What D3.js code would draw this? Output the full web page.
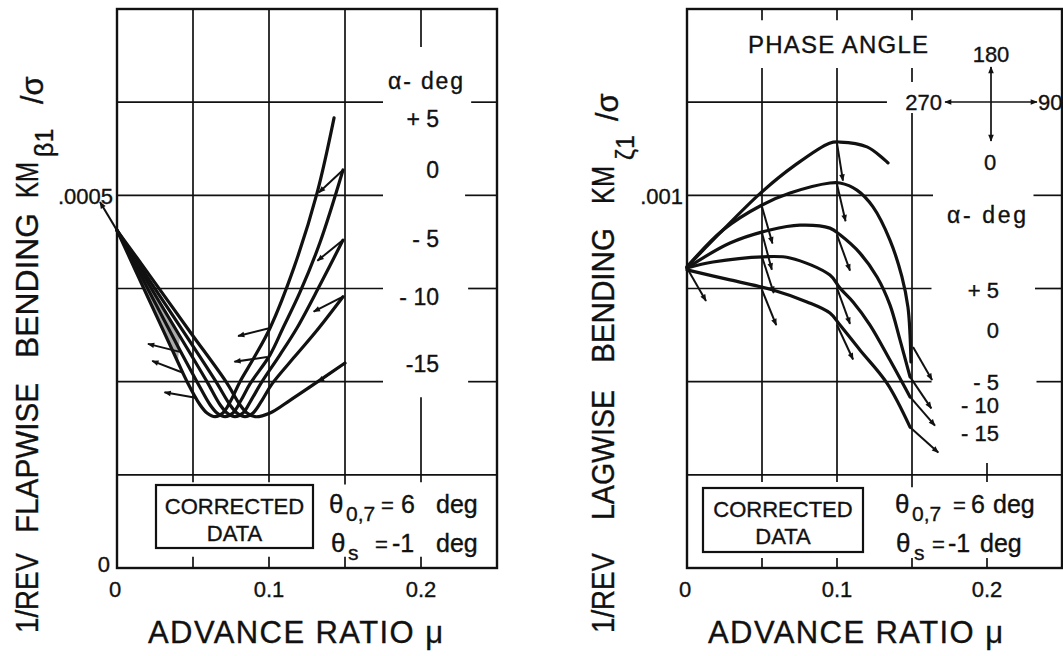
<!DOCTYPE html>
<html><head><meta charset="utf-8">
<script src="https://cdn.jsdelivr.net/npm/d3@7"></script>
<style>
body{margin:0;background:#fff}
text{font-family:"Liberation Sans",Arial,sans-serif;fill:#111;stroke:#111;stroke-width:0.35px}
</style>
</head><body>
<svg id="c" width="1063" height="656"></svg>
<script>
// ---------------- DATA ----------------
const xTickValues = [0, 0.1, 0.2];
const flapYTickValues = [0, 0.0005];
const flapYTickLabels = ["0", ".0005"];
const lagYTickValues = [0.001];
const lagYTickLabels = [".001"];
const flapAlphaLabels = ["+ 5", "0", "- 5", "- 10", "-15"];
const lagAlphaLabels = ["+ 5", "0", "- 5", "- 10", "- 15"];
const phaseLabels = ["180", "90", "0", "270"];

// Flapwise bending (left chart), one array per angle of attack
const flapMuP5  = [0, .0197, .0401, .0461, .0546, .0592, .0645, .0697, .0750, .0809, .0901, .1007, .1164, .1316, .1428];
const flapValP5 = [.000453, .000366, .000276, .000250, .000219, .000208, .000203, .000208, .000225, .000250, .000282, .000322, .000403, .000503, .000604];
const flapMu0   = [0, .0217, .0414, .0526, .0612, .0658, .0711, .0763, .0816, .0875, .1007, .1092, .1204, .1336, .1487];
const flapVal0  = [.000453, .000369, .000292, .000250, .000219, .000208, .000203, .000208, .000225, .000247, .000286, .000322, .000370, .000437, .000534];
const flapMuM5  = [0, .0217, .0414, .0592, .0678, .0724, .0776, .0829, .0882, .0954, .1072, .1184, .1336, .1487];
const flapValM5 = [.000453, .000378, .000311, .000250, .000219, .000208, .000203, .000208, .000225, .000250, .000286, .000322, .000380, .000440];
const flapMuM10  = [0, .0217, .0447, .0651, .0743, .0789, .0842, .0895, .0954, .1020, .1171, .1316, .1487];
const flapValM10 = [.000453, .000385, .000314, .000250, .000219, .000208, .000203, .000208, .000225, .000247, .000284, .000319, .000364];
const flapMuM15  = [0, .0217, .0480, .0717, .0809, .0855, .0908, .1007, .1138, .1270, .1500];
const flapValM15 = [.000453, .000392, .000317, .000250, .000219, .000208, .000203, .000208, .000225, .000243, .000275];
// phase arrows: [mu, value, phase deg]
const flapArrows = [
  [0, .000453, 211], [.0526, .000228, 260], [.0434, .000262, 249], [.0414, .000290, 256],
  [.1007, .000322, 284], [.0987, .000283, 278], [.1500, .000275, 305], [.1487, .000364, 297],
  [.1487, .000440, 309], [.1487, .000534, 313]
];

// Lagwise bending (right chart)
const lagMuP5  = [0, .022, .049, .072, .095, .102, .120, .134];
const lagValP5 = [.000808, .000899, .001006, .001081, .001140, .001143, .001130, .001087];
const lagMu0   = [0, .024, .050, .0687, .0953, .102, .1133, .124, .1353, .1433, .1473, .1487, .1493];
const lagVal0  = [.000808, .000907, .000974, .001006, .001033, .001033, .001014, .000969, .000880, .000781, .000700, .000625, .000553];
const lagMuM5  = [0, .0287, .0553, .0753, .0953, .102, .1153, .1267, .1353, .142, .1487];
const lagValM5 = [.000805, .000872, .000907, .000920, .000912, .000894, .000845, .000781, .000706, .000612, .000513];
const lagMuM10  = [0, .0173, .0507, .0687, .0953, .102, .1107, .122, .1353, .1487];
const lagValM10 = [.000805, .000821, .000835, .000832, .000786, .000751, .000714, .000652, .000558, .000459];
const lagMuM15  = [0, .0287, .0573, .080, .0953, .102, .1153, .1333, .1487];
const lagValM15 = [.000800, .000773, .000746, .000714, .000684, .000652, .000585, .000496, .000378];
const lagArrows = [
  [0, .000805, 30],
  [.050, .000969, 16], [.050, .000899, 15], [.050, .000835, 18], [.050, .000746, 22],
  [.100, .001140, 9], [.100, .001030, 13], [.100, .000894, 20], [.100, .000751, 20], [.100, .000652, 25],
  [.1507, .000593, 30], [.1487, .000513, 34], [.1487, .000459, 41], [.1487, .000378, 48]
];

// ---------------- DRAWING ----------------
const svg = d3.select("#c");
const defs = svg.append("defs");
defs.append("marker").attr("id", "ah").attr("viewBox", "0 0 10 10")
  .attr("refX", 9).attr("refY", 5).attr("markerWidth", 10).attr("markerHeight", 7)
  .attr("markerUnits", "userSpaceOnUse").attr("orient", "auto")
  .append("path").attr("d", "M0,1 L10,5 L0,9 Z").attr("fill", "#111");
defs.append("marker").attr("id", "ah2").attr("viewBox", "0 0 10 10")
  .attr("refX", 9).attr("refY", 5).attr("markerWidth", 8).attr("markerHeight", 7)
  .attr("markerUnits", "userSpaceOnUse").attr("orient", "auto-start-reverse")
  .append("path").attr("d", "M0,1 L10,5 L0,9 Z").attr("fill", "#111");

const zip = (a, b) => a.map((m, i) => [m, b[i]]);
const INK = "#111";

function panel(cfg) {
  const g = svg.append("g");
  const x = d3.scaleLinear().domain([0, 0.25]).range([cfg.x0, cfg.x1]);
  const y = d3.scaleLinear().domain([0, cfg.yMax]).range([cfg.yBot, cfg.yTop]);

  // horizontal grid segments [value, muFrom, muTo]
  cfg.hGrid.forEach(s => {
    g.append("line").attr("x1", x(s[1])).attr("x2", x(s[2]))
      .attr("y1", y(s[0])).attr("y2", y(s[0]))
      .attr("stroke", INK).attr("stroke-width", 1.7);
  });
  // vertical grid segments [mu, vFrom, vTo]
  cfg.vGrid.forEach(s => {
    g.append("line").attr("x1", x(s[0])).attr("x2", x(s[0]))
      .attr("y1", y(s[1])).attr("y2", y(s[2]))
      .attr("stroke", INK).attr("stroke-width", 1.7);
  });
  // frame
  g.append("rect").attr("x", cfg.x0).attr("y", cfg.yTop)
    .attr("width", cfg.x1 - cfg.x0).attr("height", cfg.yBot - cfg.yTop)
    .attr("fill", "none").attr("stroke", INK).attr("stroke-width", 2.4);

  // x tick labels
  g.selectAll(".xt").data(xTickValues).enter().append("text")
    .attr("x", d => x(d) - (d === 0 ? 2 : 0)).attr("y", 597)
    .attr("text-anchor", "middle").attr("font-size", 22)
    .text(d => d === 0 ? "0" : d3.format(".1f")(d));
  // y tick labels
  cfg.yTicks.forEach((v, i) => {
    g.append("text").attr("x", cfg.x0 - (v === 0 ? 7 : 4))
      .attr("y", y(v) + (v === 0 ? 4 : 9))
      .attr("text-anchor", "end").attr("font-size", 22)
      .text(cfg.yTickLabels[i]);
  });

  // x axis title
  g.append("text").attr("x", cfg.titleX).attr("y", 643).attr("font-size", 31)
    .attr("textLength", 295).attr("lengthAdjust", "spacing")
    .text("ADVANCE  RATIO  \u03bc");

  // y axis title (rotated), one text per word
  const yg = g.append("g").attr("transform", `translate(${cfg.yLabX},633) rotate(-90)`);
  cfg.yWords.forEach(w => {
    yg.append("text").attr("x", 633 - w[1]).attr("y", 0).attr("font-size", 31)
      .attr("textLength", w[2]).attr("lengthAdjust", "spacingAndGlyphs").text(w[0]);
  });
  yg.append("text").attr("x", 633 - cfg.subStart).attr("y", cfg.subDy)
    .attr("font-size", 25).text(cfg.sub);
  yg.append("text").attr("x", 633 - cfg.sigStart).attr("y", cfg.sigDy)
    .attr("font-size", 31).text("/\u03c3");

  // alpha labels
  g.append("text").attr("x", cfg.alphaX).attr("y", cfg.alphaTitleY)
    .attr("font-size", 23).attr("textLength", cfg.alphaTitleLen).attr("lengthAdjust", "spacing")
    .text("\u03b1- deg");
  cfg.alphaLabels.forEach((t, i) => {
    g.append("text").attr("x", cfg.alphaRight).attr("y", cfg.alphaY[i])
      .attr("text-anchor", "end").attr("font-size", cfg.alphaFont).text(t);
  });

  // legend box
  g.append("rect").attr("x", cfg.box[0]).attr("y", cfg.box[1])
    .attr("width", cfg.box[2]).attr("height", cfg.box[3])
    .attr("fill", "#fff").attr("stroke", INK).attr("stroke-width", 2.2);
  const bc = cfg.box[0] + cfg.box[2] / 2;
  g.append("text").attr("x", bc).attr("y", cfg.box[1] + 29).attr("text-anchor", "middle")
    .attr("font-size", 22).text("CORRECTED");
  g.append("text").attr("x", bc).attr("y", cfg.box[1] + 56).attr("text-anchor", "middle")
    .attr("font-size", 22).text("DATA");

  // theta lines
  cfg.theta.forEach(t => {
    const tx = g.append("text").attr("y", t.y).attr("font-size", 26);
    tx.append("tspan").attr("x", t.x[0]).text("\u03b8");
    tx.append("tspan").attr("x", t.x[1]).attr("dy", 8).attr("font-size", 21).text(t.sub);
    tx.append("tspan").attr("x", t.x[2]).attr("dy", -8).attr("font-size", 22).text("=");
    tx.append("tspan").attr("x", t.x[3]).attr("font-size", 25).text(t.val);
    tx.append("tspan").attr("x", t.x[4]).attr("font-size", 25).text("deg");
  });

  // shading between the first descending curves
  if (cfg.shade) {
    const a = cfg.series[0].filter(d => d[0] <= 0.045);
    const b = cfg.series[2].filter(d => d[0] <= 0.045).slice().reverse();
    g.append("path").attr("d", d3.line().x(d => x(d[0])).y(d => y(d[1]))(a.concat(b)) + "Z")
      .attr("fill", "#aaa").attr("stroke", "none");
  }

  // curves
  const line = d3.line().x(d => x(d[0])).y(d => y(d[1])).curve(d3.curveCatmullRom.alpha(0.5));
  cfg.series.forEach(s => {
    g.append("path").attr("d", line(s)).attr("fill", "none")
      .attr("stroke", INK).attr("stroke-width", 3.2).attr("stroke-linejoin", "round")
      .attr("stroke-linecap", "round");
  });

  // phase arrows
  cfg.arrows.forEach(a => {
    const px = x(a[0]), py = y(a[1]), r = a[2] * Math.PI / 180;
    g.append("line").attr("x1", px).attr("y1", py)
      .attr("x2", px + cfg.arrowLen * Math.sin(r)).attr("y2", py + cfg.arrowLen * Math.cos(r))
      .attr("stroke", INK).attr("stroke-width", 2).attr("marker-end", "url(#ah)");
  });
  return {g, x, y};
}

// Left chart
const L = panel({
  x0: 117, x1: 497, yTop: 9, yBot: 568, yMax: 0.00075,
  hGrid: [[0.000125, 0, 0.25],
          [0.00025, 0, 0.175], [0.00025, 0.231, 0.25],
          [0.000375, 0, 0.175], [0.000375, 0.231, 0.25],
          [0.0005, 0, 0.175], [0.0005, 0.229, 0.25],
          [0.000625, 0, 0.175], [0.000625, 0.233, 0.25]],
  vGrid: [[0.05, 0.000115, 0.00075], [0.1, 0.000115, 0.00075], [0.15, 0.000112, 0.00075],
          [0.2, 0.000699, 0.00075], [0.2, 0.000115, 0.000229],
          [0.05, 0, 0.000015], [0.1, 0, 0.000015], [0.15, 0, 0.000015], [0.2, 0, 0.000015]],
  yTicks: flapYTickValues, yTickLabels: flapYTickLabels,
  titleX: 148,
  yLabX: 38,
  yWords: [["1/REV", 633, 80], ["FLAPWISE", 533, 150], ["BENDING", 358, 145], ["KM", 198, 36]],
  sub: "\u03b21", subStart: 157, subDy: 15, sigStart: 104, sigDy: 5,
  alphaX: 388, alphaTitleY: 89, alphaTitleLen: 75, alphaRight: 439, alphaFont: 23,
  alphaLabels: flapAlphaLabels,
  alphaY: [127, 178, 247, 305, 372],
  box: [156, 485, 157, 63],
  theta: [{y: 513, x: [329, 346, 381, 401, 436], sub: "0,7", val: "6"},
          {y: 552, x: [331, 348, 375, 392, 436], sub: "s", val: "-1"}],
  shade: true,
  series: [zip(flapMuP5, flapValP5), zip(flapMu0, flapVal0), zip(flapMuM5, flapValM5),
           zip(flapMuM10, flapValM10), zip(flapMuM15, flapValM15)],
  arrows: flapArrows, arrowLen: 33
});

// Right chart
const R = panel({
  x0: 687, x1: 1062, yTop: 9, yBot: 568, yMax: 0.0015,
  hGrid: [[0.00025, 0, 0.25],
          [0.0005, 0, 0.163], [0.0005, 0.233, 0.25],
          [0.00075, 0, 0.163], [0.00075, 0.232, 0.25],
          [0.001, 0, 0.164], [0.001, 0.231, 0.25],
          [0.00125, 0, 0.1333]],
  vGrid: [[0.05, 0.000231, 0.001342], [0.1, 0.000231, 0.001342],
          [0.15, 0.000217, 0.001221], [0.15, 0.001304, 0.001342],
          [0.2, 0.000231, 0.000282],
          [0.05, 0.00147, 0.0015], [0.1, 0.00147, 0.0015], [0.15, 0.00147, 0.0015],
          [0.05, 0, 0.000027], [0.1, 0, 0.000027], [0.15, 0, 0.000027], [0.2, 0, 0.000027]],
  yTicks: lagYTickValues, yTickLabels: lagYTickLabels,
  titleX: 708,
  yLabX: 614,
  yWords: [["1/REV", 633, 80], ["LAGWISE", 520, 130], ["BENDING", 363, 135], ["KM", 204, 38]],
  sub: "\u03b61", subStart: 160, subDy: 20, sigStart: 121, sigDy: 4,
  alphaX: 947, alphaTitleY: 223, alphaTitleLen: 79, alphaRight: 999, alphaFont: 22,
  alphaLabels: lagAlphaLabels,
  alphaY: [298, 338, 390, 413, 441],
  box: [703, 488, 160, 64],
  theta: [{y: 513, x: [895, 912, 953, 971, 993], sub: "0,7", val: "6"},
          {y: 552, x: [896, 914, 932, 948, 980], sub: "s", val: "-1"}],
  shade: false,
  series: [zip(lagMuP5, lagValP5), zip(lagMu0, lagVal0), zip(lagMuM5, lagValM5),
           zip(lagMuM10, lagValM10), zip(lagMuM15, lagValM15)],
  arrows: lagArrows, arrowLen: 38
});

// Phase angle legend (right chart)
const pg = R.g;
pg.append("text").attr("x", 748).attr("y", 53).attr("font-size", 24)
  .attr("textLength", 180).attr("lengthAdjust", "spacing").text("PHASE  ANGLE");
pg.append("line").attr("x1", 991).attr("x2", 991).attr("y1", 141).attr("y2", 67)
  .attr("stroke", INK).attr("stroke-width", 1.7)
  .attr("marker-start", "url(#ah2)").attr("marker-end", "url(#ah2)");
pg.append("line").attr("x1", 945).attr("x2", 1037).attr("y1", 102).attr("y2", 102)
  .attr("stroke", INK).attr("stroke-width", 1.7)
  .attr("marker-start", "url(#ah2)").attr("marker-end", "url(#ah2)");
pg.append("text").attr("x", 991).attr("y", 62).attr("text-anchor", "middle").attr("font-size", 22).text(phaseLabels[0]);
pg.append("text").attr("x", 1038).attr("y", 110).attr("font-size", 22).text(phaseLabels[1]);
pg.append("text").attr("x", 990).attr("y", 170).attr("text-anchor", "middle").attr("font-size", 22).text(phaseLabels[2]);
pg.append("text").attr("x", 942).attr("y", 110).attr("text-anchor", "end").attr("font-size", 22).text(phaseLabels[3]);
</script>
</body></html>
